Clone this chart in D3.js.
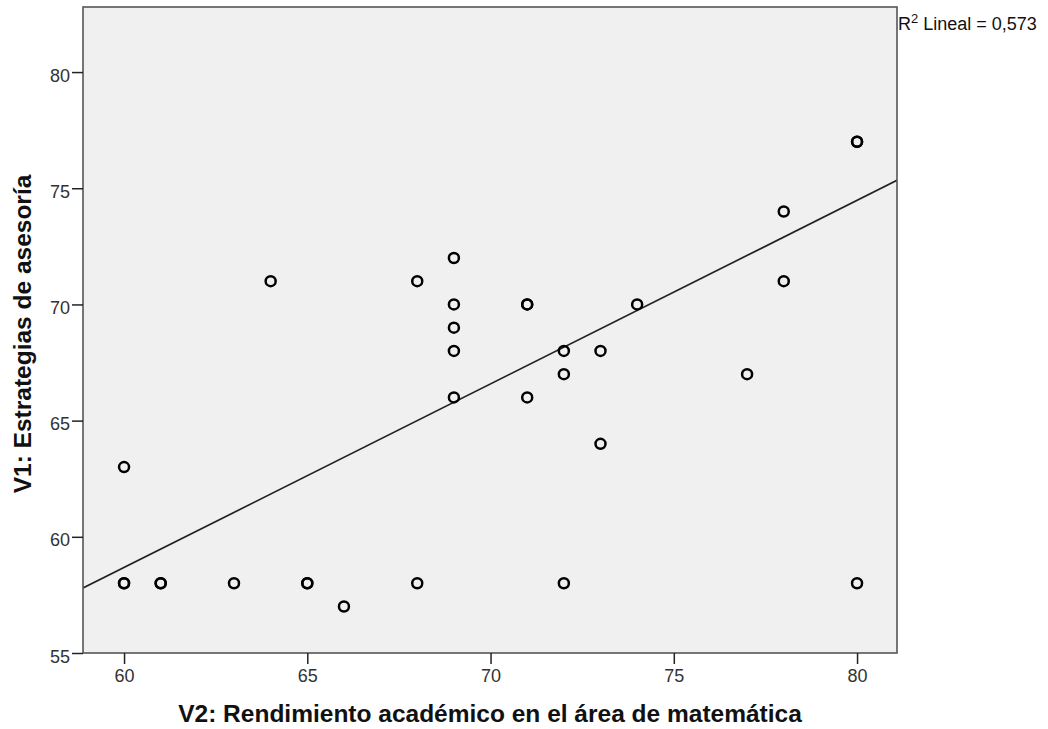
<!DOCTYPE html>
<html><head><meta charset="utf-8">
<script src="https://cdn.jsdelivr.net/npm/d3@7"></script>
<style>body{margin:0;background:#fff}</style>
</head><body>
<svg id="c" width="1048" height="729"></svg>
<script>
const xVals = [60,60,60,61,61,63,64,65,65,66,68,68,69,69,69,69,69,71,71,71,72,72,72,73,73,74,77,78,78,80,80,80];
const yVals = [58,58,63,58,58,58,71,58,58,57,71,58,72,70,69,68,66,70,70,66,68,67,58,68,64,70,67,74,71,77,77,58];
const xTicks = [60,65,70,75,80];
const yTicks = [55,60,65,70,75,80];
const fitSlope = 0.79;
const fitIntercept = 11.28;
const r2Label = "0,573";
const xTitle = "V2: Rendimiento académico en el área de matemática";
const yTitle = "V1: Estrategias de asesoría";

const FONT = "Liberation Sans, Arial, sans-serif";
const svg = d3.select("#c");
const L = 83, R = 897, T = 7, B = 653;
const x = d3.scaleLinear().domain([58.88, 81.09]).range([L, R]);
const y = d3.scaleLinear().domain([55, 82.8]).range([B, T]);

svg.append("rect").attr("x", L).attr("y", T).attr("width", R - L).attr("height", B - T)
  .attr("fill", "#f0f0f0").attr("stroke", "none");

svg.append("clipPath").attr("id", "pc").append("rect")
  .attr("x", L).attr("y", T).attr("width", R - L).attr("height", B - T);

const [x0, x1] = x.domain();
svg.append("line").attr("clip-path", "url(#pc)")
  .attr("x1", x(x0)).attr("y1", y(fitIntercept + fitSlope * x0))
  .attr("x2", x(x1)).attr("y2", y(fitIntercept + fitSlope * x1))
  .attr("stroke", "#222").attr("stroke-width", 1.7);

svg.append("g").selectAll("circle").data(xVals.map((v, i) => [v, yVals[i]])).join("circle")
  .attr("cx", d => x(d[0])).attr("cy", d => y(d[1])).attr("r", 5)
  .attr("fill", "none").attr("stroke", "#000").attr("stroke-width", 2.5);

svg.append("rect").attr("x", L).attr("y", T).attr("width", R - L).attr("height", B - T)
  .attr("fill", "none").attr("stroke", "#555").attr("stroke-width", 1.6);

const xa = svg.append("g").attr("transform", `translate(0,${B})`)
  .call(d3.axisBottom(x).tickValues(xTicks).tickSize(11).tickPadding(5).tickSizeOuter(0));
const ya = svg.append("g").attr("transform", `translate(${L},0)`)
  .call(d3.axisLeft(y).tickValues(yTicks).tickSize(11).tickPadding(2).tickSizeOuter(0));
[xa, ya].forEach(a => {
  a.select(".domain").remove();
  a.selectAll("line").attr("stroke", "#222").attr("stroke-width", 1.5);
  a.selectAll("text").attr("font-family", FONT)
    .attr("font-size", 18).attr("fill", "#333");
});
ya.selectAll("text").attr("dy", "0.5em");

svg.append("text").attr("x", 490).attr("y", 722).attr("text-anchor", "middle")
  .attr("font-family", FONT).attr("font-weight", "bold")
  .attr("font-size", 24.5).attr("fill", "#111").text(xTitle);

svg.append("text").attr("transform", `translate(31,334) rotate(-90)`)
  .attr("text-anchor", "middle")
  .attr("font-family", FONT).attr("font-weight", "bold")
  .attr("font-size", 24.5).attr("fill", "#111").text(yTitle);

const rt = svg.append("text").attr("x", R + 1).attr("y", 30)
  .attr("font-family", FONT).attr("font-size", 18).attr("fill", "#111");
rt.append("tspan").text("R");
rt.append("tspan").attr("dy", -7).attr("font-size", 13).text("2");
rt.append("tspan").attr("dy", 7).text(" Lineal = " + r2Label);
</script>
</body></html>
